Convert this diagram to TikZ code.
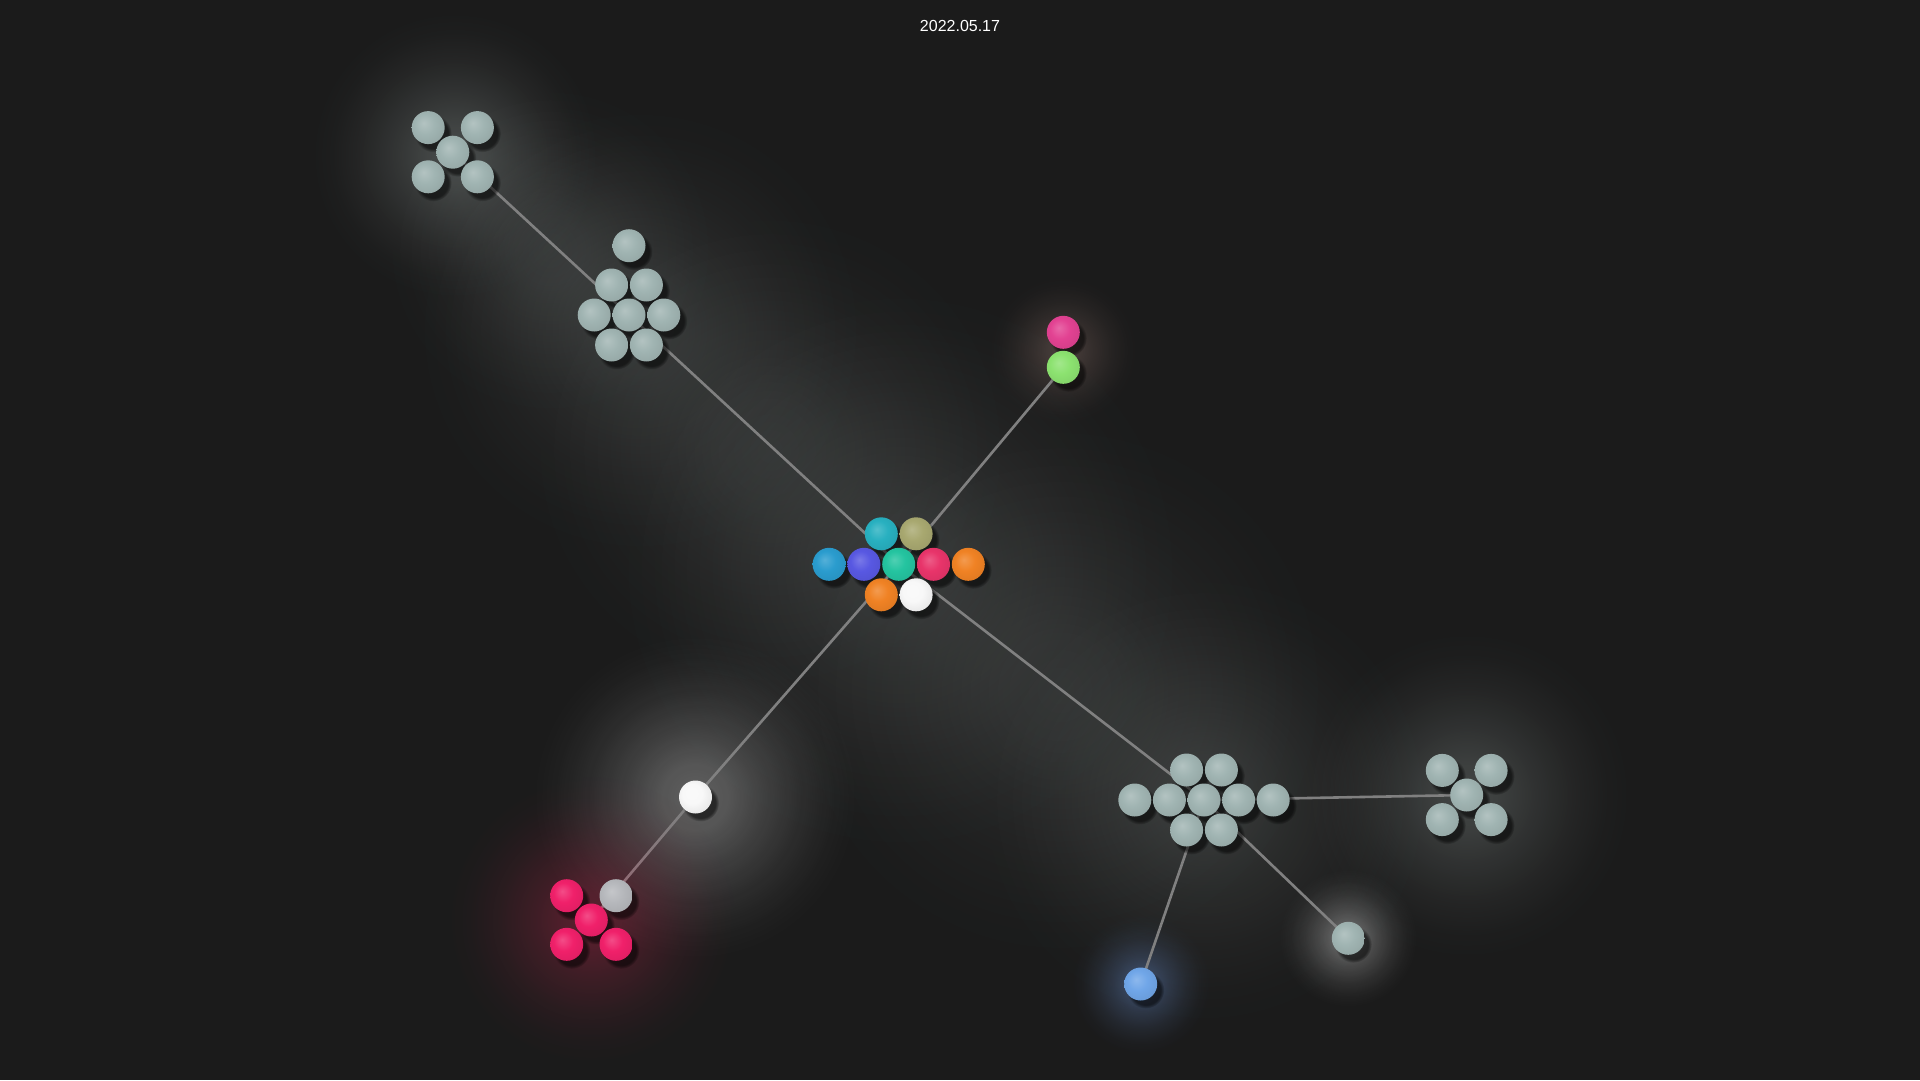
\documentclass[tikz,border=0pt]{standalone}
\usepackage{fontspec}
\setmainfont{Liberation Sans}
\usetikzlibrary{fadings}
\definecolor{bgc}{RGB}{27,27,27}
\definecolor{greyball}{RGB}{160,180,178}
\definecolor{greyglow}{RGB}{150,160,158}
\definecolor{edgec}{RGB}{128,128,128}
\definecolor{cTeal}{RGB}{40,176,192}
\definecolor{cOlive}{RGB}{168,168,112}
\definecolor{cSky}{RGB}{42,156,206}
\definecolor{cIndigo}{RGB}{88,88,226}
\definecolor{cJade}{RGB}{36,196,160}
\definecolor{cCrimson}{RGB}{232,52,106}
\definecolor{cOrange}{RGB}{240,130,36}
\definecolor{cWhite}{RGB}{248,248,248}
\definecolor{cMagenta}{RGB}{226,66,146}
\definecolor{cLime}{RGB}{140,226,112}
\definecolor{cRose}{RGB}{240,32,106}
\definecolor{cSilver}{RGB}{182,184,188}
\definecolor{cBlue}{RGB}{112,166,232}
\definecolor{roseglow}{RGB}{200,40,80}
\definecolor{blueglow}{RGB}{110,150,220}
\definecolor{warmglow}{RGB}{190,150,140}
\colorlet{sphbase}{gray}
\colorlet{sphlight}{white}
\pgfdeclareradialshading[sphbase,sphlight]{sphere}{\pgfpoint{-7bp}{7bp}}{%
  color(0bp)=(sphlight); color(15bp)=(sphbase); color(26bp)=(sphbase!95!black); color(32bp)=(sphbase!90!black); color(50bp)=(sphbase!90!black)}
\pgfdeclareradialshading{glowsh}{\pgfpointorigin}{%
  color(0bp)=(white); color(5bp)=(white!85!black); color(10bp)=(white!55!black); color(16bp)=(white!25!black); color(21bp)=(white!7!black); color(25bp)=(black); color(50bp)=(black)}
\pgfdeclarefading{glowfade}{\pgfuseshading{glowsh}}
\pgfdeclarelayer{glow}
\pgfdeclarelayer{edges}
\pgfdeclarelayer{shade}
\pgfsetlayers{glow,edges,shade,main}
\begin{document}
\begin{tikzpicture}[x=1pt,y=-1pt,
  ball/.style={circle, inner sep=0pt, minimum size=33pt, draw=none,
    /utils/exec={\colorlet{sphbase}{#1}\colorlet{sphlight}{#1!80!white}},
    shade, shading=sphere},
  link/.style={draw=edgec, line width=2.6pt},
  halo/.style={path fading=glowfade},
  shadowball/.style={fill=black, opacity=0.55, path fading=circle with fuzzy edge 20 percent}]
\useasboundingbox (0,0) rectangle (1920,1080);
\begin{pgfonlayer}{glow}
  \fill[bgc] (0,0) rectangle (1920,1080);
  \foreach \x/\y/\r/\c/\o in {
    455/155/145/greyglow/0.36,
    550/250/170/greyglow/0.18,
    640/330/230/greyglow/0.2,
    770/450/250/greyglow/0.16,
    900/570/290/greyglow/0.2,
    1060/690/280/greyglow/0.16,
    1204/800/230/greyglow/0.22,
    1467/795/165/greyglow/0.32,
    1348/938/70/white/0.35,
    1141/984/70/blueglow/0.4,
    695/797/165/white/0.3,
    1063/350/75/warmglow/0.28}
    \fill[\c, opacity=\o, halo] (\x,\y) circle (\r);
\end{pgfonlayer}

% top-left cross cluster
\node[ball=greyball] (a1) at (428.2,127.6) {};
\node[ball=greyball] (a2) at (477.4,127.6) {};
\node[ball=greyball] (a3) at (452.8,152.2) {};
\node[ball=greyball] (a4) at (428.2,176.8) {};
\node[ball=greyball] (a5) at (477.4,176.8) {};
% upper hex cluster
\node[ball=greyball] (b0) at (629,245.7) {};
\node[ball=greyball] (b1) at (611.6,285) {};
\node[ball=greyball] (b2) at (646.4,285) {};
\node[ball=greyball] (b3) at (594.2,315) {};
\node[ball=greyball] (b4) at (629,315) {};
\node[ball=greyball] (b5) at (663.8,315) {};
\node[ball=greyball] (b6) at (611.6,345) {};
\node[ball=greyball] (b7) at (646.4,345) {};
% central colour cluster
\node[ball=cTeal] (c1) at (881.3,533.8) {};
\node[ball=cOlive] (c2) at (916.1,533.8) {};
\node[ball=cSky] (c3) at (829.1,564.3) {};
\node[ball=cIndigo] (c4) at (863.9,564.3) {};
\node[ball=cJade] (c5) at (898.7,564.3) {};
\node[ball=cCrimson] (c6) at (933.5,564.3) {};
\node[ball=cOrange] (c7) at (968.3,564.3) {};
\node[ball=cOrange] (c8) at (881.3,594.8) {};
\node[ball=cWhite] (c9) at (916.1,594.8) {};
% magenta / lime pair
\node[ball=cMagenta] (d1) at (1063.3,332.3) {};
\node[ball=cLime] (d2) at (1063.3,367.3) {};
% white single
\node[ball=cWhite] (e) at (695.5,797) {};
% rose cluster
\node[ball=cRose] (f1) at (566.7,895.7) {};
\node[ball=cSilver] (f2) at (616,895.7) {};
\node[ball=cRose] (f3) at (591.3,920) {};
\node[ball=cRose] (f4) at (566.7,944.3) {};
\node[ball=cRose] (f5) at (616,944.3) {};
% lower-right hex cluster
\node[ball=greyball] (g1) at (1186.6,770) {};
\node[ball=greyball] (g2) at (1221.4,770) {};
\node[ball=greyball] (g3) at (1134.8,800) {};
\node[ball=greyball] (g4) at (1169.4,800) {};
\node[ball=greyball] (g5) at (1204,800) {};
\node[ball=greyball] (g6) at (1238.6,800) {};
\node[ball=greyball] (g7) at (1273.2,800) {};
\node[ball=greyball] (g8) at (1186.6,830) {};
\node[ball=greyball] (g9) at (1221.4,830) {};
% right cross cluster
\node[ball=greyball] (h1) at (1442.3,770.4) {};
\node[ball=greyball] (h2) at (1491.1,770.4) {};
\node[ball=greyball] (h3) at (1466.7,795) {};
\node[ball=greyball] (h4) at (1442.3,819.6) {};
\node[ball=greyball] (h5) at (1491.1,819.6) {};
% singles
\node[ball=greyball] (k) at (1348.3,938.3) {};
\node[ball=cBlue] (m) at (1140.7,984) {};

\node[text=white, font=\fontsize{16}{19}\selectfont] (title) at (960,26) {2022.05.17};

\begin{pgfonlayer}{edges}
  \draw[link] (a3.center) -- (b4.center);
  \draw[link] (b4.center) -- (c5.center);
  \draw[link] (c5.center) -- (d2.center);
  \draw[link] (c5.center) -- (e.center);
  \draw[link] (e.center) -- (f3.center);
  \draw[link] (c5.center) -- (g5.center);
  \draw[link] (g5.center) -- (h3.center);
  \draw[link] (g5.center) -- (k.center);
  \draw[link] (g5.center) -- (m.center);
\end{pgfonlayer}

\begin{pgfonlayer}{shade}
  \fill[roseglow, opacity=0.36, halo] (f3) circle (145);
  \foreach \n in {a1,a2,a3,a4,a5,b0,b1,b2,b3,b4,b5,b6,b7,c1,c2,c3,c4,c5,c6,c7,c8,c9,d1,d2,e,f1,f2,f3,f4,f5,g1,g2,g3,g4,g5,g6,g7,g8,g9,h1,h2,h3,h4,h5,k,m}
    \fill[shadowball] ([shift={(5,6)}]\n.center) circle (18.5);
\end{pgfonlayer}
\end{tikzpicture}
\end{document}
